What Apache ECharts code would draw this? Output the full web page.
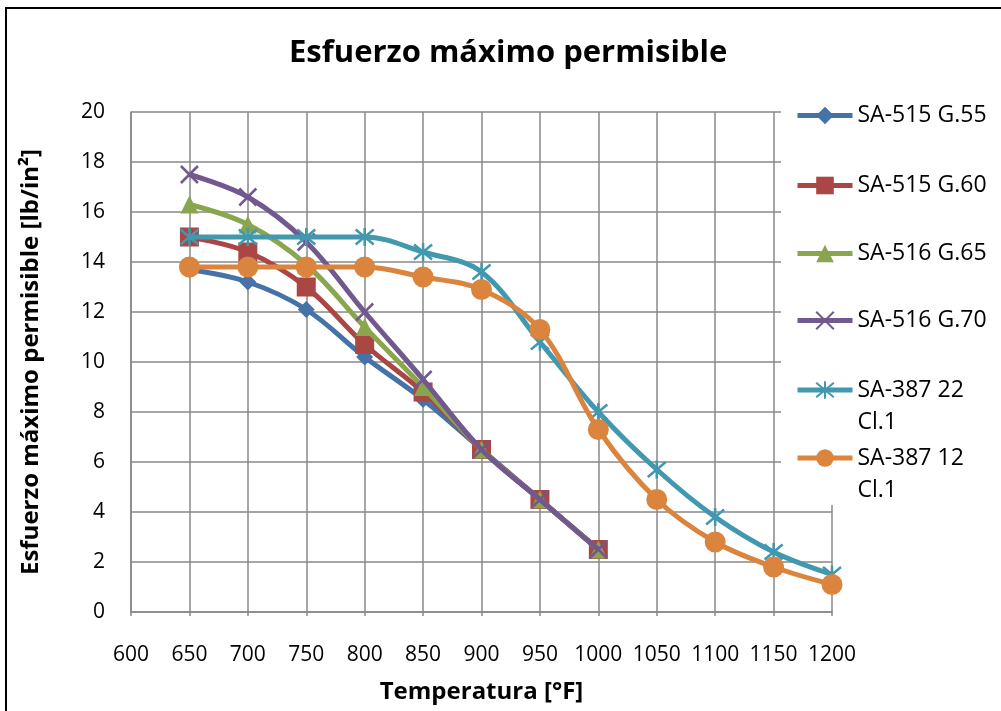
<!DOCTYPE html>
<html>
<head>
<meta charset="utf-8">
<script src="https://cdn.jsdelivr.net/npm/echarts@6/dist/echarts.min.js"></script>
<style>
html,body{margin:0;padding:0;background:#fff;}
#chart{width:1001px;height:711px;}
</style>
</head>
<body>
<div id="chart"></div>
<script>
//datos
var temps = [650, 700, 750, 800, 850, 900, 950, 1000, 1050, 1100, 1150, 1200];
var names = ['SA-515 G.55', 'SA-515 G.60', 'SA-516 G.65', 'SA-516 G.70', 'SA-387 22 Cl.1', 'SA-387 12 Cl.1'];
var sa515g55 = [13.7, 13.2, 12.1, 10.2, 8.5, 6.5, 4.5, 2.5];
var sa515g60 = [15.0, 14.4, 13.0, 10.7, 8.8, 6.5, 4.5, 2.5];
var sa516g65 = [16.3, 15.5, 13.9, 11.4, 9.0, 6.5, 4.5, 2.5];
var sa516g70 = [17.5, 16.6, 14.8, 12.0, 9.3, 6.5, 4.5, 2.5];
var sa387_22 = [15.0, 15.0, 15.0, 15.0, 14.4, 13.6, 10.8, 8.0, 5.7, 3.8, 2.4, 1.5];
var sa387_12 = [13.8, 13.8, 13.8, 13.8, 13.4, 12.9, 11.3, 7.3, 4.5, 2.8, 1.8, 1.1];
var xTicks = [600, 1200, 50];
var yTicks = [0, 20, 2];

var colors = ['#4572A7', '#AA4643', '#89A54E', '#71588F', '#4198AF', '#DB843D'];
var symbols = ['diamond', 'rect', 'triangle',
  'path://M0,0L10,10M10,0L0,10',
  'path://M0,0L10,10M10,0L0,10M5,-1L5,11',
  'circle'];
var sizes = [17, 19, 18, 17, 18, 21];
var allData = [sa515g55, sa515g60, sa516g65, sa516g70, sa387_22, sa387_12];
var legendY = [115, 185, 253, 320, 390, 458];
var fontName = 'Open Sans';

//armar pares x,y
function pairs(vals){
  var out = [];
  for(var i = 0; i < vals.length; i++){
    out.push([temps[i], vals[i]]);
  }
  return out;
}

var chart = echarts.init(document.getElementById('chart'));

var series = [];
var legends = [];
for(var k = 0; k < names.length; k++){
  var isLine = symbols[k].indexOf('path://') === 0;
  var twoLines = names[k].indexOf(' Cl.1') > 0;
  series.push({
    name: names[k],
    type: 'line',
    smooth: 0.35,
    data: pairs(allData[k]),
    symbol: symbols[k],
    symbolSize: sizes[k],
    showAllSymbol: true,
    z: 2 + k,
    lineStyle: {color: colors[k], width: 5},
    itemStyle: isLine ? {color: 'rgba(0,0,0,0)', borderColor: colors[k], borderWidth: 2.5} : {color: colors[k], borderWidth: 0},
    emphasis: {disabled: true}
  });
  //las de dos lineas: linea vacia arriba para que el icono quede en la primera
  legends.push({
    data: [names[k]],
    orient: 'vertical',
    left: 795,
    top: twoLines ? legendY[k] - 48 : legendY[k] - 11,
    padding: 0,
    itemWidth: 55,
    itemHeight: 22,
    selectedMode: false,
    lineStyle: {width: 5},
    formatter: function(n){ return n.indexOf(' Cl.1') > 0 ? '\n' + n.replace(' Cl.1', '\nCl.1') : n; },
    textStyle: twoLines ? {
      fontFamily: fontName, fontSize: 23, color: '#000', lineHeight: 32
    } : {
      fontFamily: fontName, fontSize: 23, color: '#000',
      lineHeight: 32, verticalAlign: 'top', padding: [-16, 0, 0, 0]
    }
  });
}

var option = {
  animation: false,
  color: colors,
  title: {
    text: 'Esfuerzo máximo permisible',
    left: 284,
    top: 33,
    textStyle: {fontFamily: fontName, fontSize: 31, fontWeight: 'bold', color: '#000'}
  },
  legend: legends,
  grid: {left: 131, right: 169, top: 112, bottom: 99},
  xAxis: {
    type: 'value',
    min: xTicks[0], max: xTicks[1], interval: xTicks[2],
    name: 'Temperatura [°F]',
    nameLocation: 'middle',
    nameGap: 68,
    nameTextStyle: {fontFamily: fontName, fontSize: 24, fontWeight: 'bold', color: '#000'},
    axisLine: {show: true, lineStyle: {color: '#898989', width: 1.5}},
    axisTick: {show: true, length: 4, lineStyle: {color: '#898989', width: 1.5}},
    axisLabel: {fontFamily: fontName, fontSize: 21, color: '#000', margin: 33,
      formatter: function(v){ return String(v); }},
    splitLine: {show: true, lineStyle: {color: '#898989', width: 1.5}}
  },
  yAxis: {
    type: 'value',
    min: yTicks[0], max: yTicks[1], interval: yTicks[2],
    name: 'Esfuerzo máximo permisible [lb/in²]',
    nameLocation: 'middle',
    nameGap: 88,
    nameTextStyle: {fontFamily: fontName, fontSize: 24, fontWeight: 'bold', color: '#000'},
    axisLine: {show: true, lineStyle: {color: '#898989', width: 1.5}},
    axisTick: {show: false},
    axisLabel: {fontFamily: fontName, fontSize: 21, color: '#000', margin: 26},
    splitLine: {show: true, lineStyle: {color: '#898989', width: 1.5}}
  },
  graphic: [
    //borde exterior
    {type: 'rect', shape: {x: 6, y: 8, width: 1010, height: 720}, style: {fill: 'none', stroke: '#000', lineWidth: 2}, z: 10},
    //fondo de la leyenda
    {type: 'rect', shape: {x: 781, y: 92, width: 216, height: 413}, style: {fill: '#fff'}, z: 1}
  ],
  series: series
};

chart.setOption(option);
</script>
</body>
</html>
